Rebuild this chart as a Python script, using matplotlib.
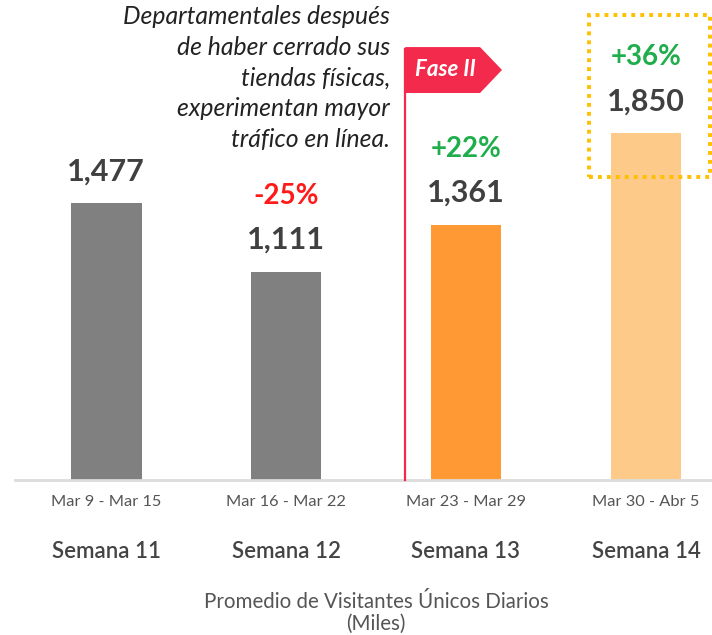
import matplotlib.pyplot as plt
import matplotlib.transforms as mtransforms
from matplotlib.patches import Polygon, Rectangle

plt.rcParams['font.family'] = ['Lato', 'DejaVu Sans']

semanas = ['Semana 11', 'Semana 12', 'Semana 13', 'Semana 14']
fechas = ['Mar 9 - Mar 15', 'Mar 16 - Mar 22', 'Mar 23 - Mar 29', 'Mar 30 - Abr 5']
visitantes = [1477, 1111, 1361, 1850]
cambios = [None, '-25%', '+22%', '+36%']
colores = ['#808080', '#808080', '#ff9933', '#fdca8a']
color_cambio = [None, '#ff1a1a', '#1fae4b', '#1fae4b']

W, H = 712, 635
fig = plt.figure(figsize=(W / 100, H / 100), dpi=100)
# axes: left edge at 15px, bottom (baseline) at 480px from top
ax = fig.add_axes([15 / W, 1 - 480 / H, 1 - 15 / W, 480 / H])
x = list(range(len(semanas)))
ax.bar(x, visitantes, width=0.394, color=colores, zorder=2)
ax.set_xlim(-0.506, 3.367)
ax.set_ylim(0, 2560)
for s in ['top', 'right', 'left']:
    ax.spines[s].set_visible(False)
ax.spines['bottom'].set_color('#dcdcdc')
ax.spines['bottom'].set_linewidth(2)
ax.set_yticks([])
ax.set_xticks([])

for i, v in enumerate(visitantes):
    ax.text(i, v + 95, f'{v:,}', ha='center', va='bottom', fontsize=22,
            fontweight='bold', color='#404040')
    if cambios[i]:
        ax.text(i, v + 335, cambios[i], ha='center', va='bottom', fontsize=20,
                fontweight='bold', color=color_cambio[i])

# labels below axis
tr = mtransforms.blended_transform_factory(ax.transData, fig.transFigure)
for i in x:
    ax.text(i, 1 - 502 / H, fechas[i], transform=tr, ha='center', va='center',
            fontsize=11.8, color='#555555')
    ax.text(i, 1 - 552 / H, semanas[i], transform=tr, ha='center', va='center',
            fontsize=16, fontweight='semibold', color='#444444')
fig.text(376 / W, 1 - 602 / H, 'Promedio de Visitantes Únicos Diarios',
         ha='center', va='center', fontsize=14.8, color='#555555')
fig.text(376 / W, 1 - 624 / H, '(Miles)', ha='center', va='center',
         fontsize=14.8, color='#555555')

# Fase II flag
rojo = '#f42a4c'
px = 1.662
ax.plot([px, px], [0, 2300], color=rojo, lw=1.6, zorder=3, clip_on=False)
flag = Polygon([[px, 2309], [2.078, 2309], [2.2, 2187], [2.078, 2064], [px, 2064]],
               closed=True, facecolor=rojo, edgecolor='none', zorder=3, clip_on=False)
ax.add_patch(flag)
ax.text(1.885, 2187, 'Fase II', ha='center', va='center', fontsize=16,
        fontweight='bold', fontstyle='italic', color='white', zorder=4)

# highlight box around last week
box = Rectangle((2.683, 1616), 0.673, 864, fill=False, edgecolor='#ffc000',
                lw=2.8, linestyle=(0, (1, 1.3)), zorder=4, clip_on=False)
ax.add_patch(box)

fig.text(390 / W, 1 - 78 / H,
         'Departamentales después\nde haber cerrado sus\ntiendas físicas,\n'
         'experimentan mayor\ntráfico en línea.',
         ha='right', va='center', fontsize=17.8, fontstyle='italic',
         color='#222222', linespacing=1.4)

fig.savefig('out.png', dpi=100)
